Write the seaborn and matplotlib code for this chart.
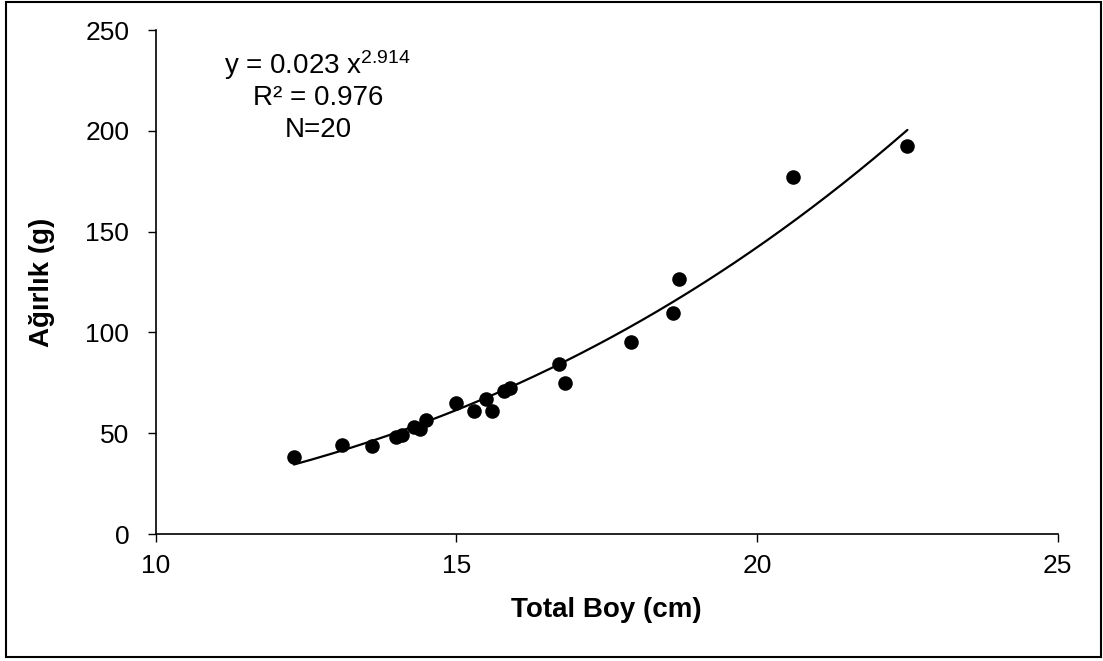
import numpy as np
import pandas as pd
import matplotlib
matplotlib.use("Agg")
import matplotlib.pyplot as plt
import seaborn as sns
from matplotlib.patches import Rectangle

# Data
total_boy = [12.3, 13.1, 13.6, 14.0, 14.1, 14.3, 14.4, 14.5, 15.0, 15.3, 15.5,
             15.6, 15.8, 15.9, 16.7, 16.8, 17.9, 18.6, 18.7, 20.6, 22.5]
agirlik = [38.3, 44.0, 43.5, 48.3, 49.0, 52.9, 52.1, 56.5, 65.1, 61.2, 67.1,
           61.2, 71.1, 72.3, 84.3, 74.8, 95.2, 109.5, 126.5, 177.2, 192.5]

# Power trendline coefficients shown on chart
coef_a = 0.023
coef_b = 2.914
x_ticks = [10, 15, 20, 25]
y_ticks = [0, 50, 100, 150, 200, 250]

sns.set_theme(style="white")
plt.rcParams['font.family'] = ['Liberation Sans', 'DejaVu Sans']
plt.rcParams['mathtext.fontset'] = 'custom'
plt.rcParams['mathtext.rm'] = 'Liberation Sans'
plt.rcParams['mathtext.it'] = 'Liberation Sans'
plt.rcParams['text.color'] = 'black'
plt.rcParams['axes.labelcolor'] = 'black'

fig = plt.figure(figsize=(11.03, 6.61), dpi=100)
ax = fig.add_axes([0.141, 0.192, 0.959 - 0.141, 0.9546 - 0.192])

df = pd.DataFrame({"x": total_boy, "y": agirlik})
xs = np.linspace(min(total_boy), max(total_boy), 200)
fit = pd.DataFrame({"x": xs, "y": coef_a * xs ** coef_b})

sns.lineplot(data=fit, x="x", y="y", ax=ax, color="black", linewidth=1.6)
sns.scatterplot(data=df, x="x", y="y", ax=ax, color="black", s=110,
                edgecolor="black", linewidth=0, zorder=3)

ax.set_xlim(10, 25)
ax.set_ylim(0, 250)
ax.set_xticks(x_ticks)
ax.set_yticks(y_ticks)
ax.tick_params(axis="both", direction="out", length=6, width=1, color="black",
               labelsize=19, labelcolor="black", bottom=True, left=True)
ax.tick_params(axis="x", pad=8)
ax.tick_params(axis="y", pad=13)
for side in ["top", "right"]:
    ax.spines[side].set_visible(False)
for side in ["left", "bottom"]:
    ax.spines[side].set_color("black")
    ax.spines[side].set_linewidth(1.2)

ax.set_xlabel("Total Boy (cm)", fontsize=20, fontweight="bold", labelpad=14)
ax.set_ylabel("Ağırlık (g)", fontsize=20, fontweight="bold", labelpad=22)

tx = 12.70
ax.text(tx, 232.8, r"y = 0.023 x$^{\mathregular{2.914}}$", fontsize=20,
        ha="center", va="center")
ax.text(tx, 216.2, "R² = 0.976", fontsize=20, ha="center", va="center")
ax.text(tx, 200.5, "N=20", fontsize=20, ha="center", va="center")

fig.patches.append(Rectangle((0.0054, 0.006), 0.9926, 0.991,
                             transform=fig.transFigure, fill=False,
                             edgecolor="black", linewidth=1.5))

fig.savefig("out.png", dpi=100)
